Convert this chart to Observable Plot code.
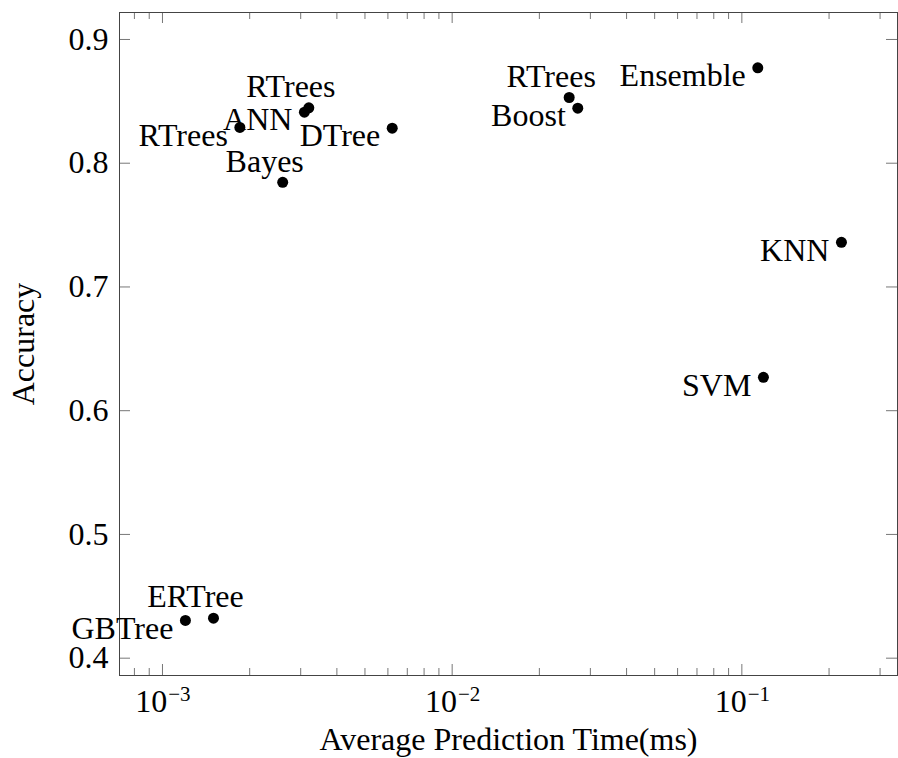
<!DOCTYPE html>
<html>
<head>
<meta charset="utf-8">
<script src="https://cdn.jsdelivr.net/npm/d3@7"></script>
<script src="https://cdn.jsdelivr.net/npm/@observablehq/plot@0.6"></script>
<style>
  html, body { margin: 0; padding: 0; background: white; }
  svg { display: block; }
</style>
</head>
<body>
<div id="chart"></div>
<script>
// ---- data ----
const models   = ["GBTree", "ERTree", "RTrees", "ANN", "RTrees", "Bayes", "DTree", "RTrees", "Boost", "Ensemble", "KNN", "SVM"];
const times    = [0.00120, 0.00150, 0.00185, 0.00309, 0.00320, 0.00260, 0.00621, 0.02535, 0.02714, 0.1135, 0.2207, 0.1187];
const accuracy = [0.4305, 0.4323, 0.8289, 0.8412, 0.8448, 0.7846, 0.8283, 0.8531, 0.8445, 0.8771, 0.7361, 0.6270];

const xMajorTicks = [0.001, 0.01, 0.1];
const xMajorExponents = ["−3", "−2", "−1"];
const xMinorTicks = [0.0008, 0.0009,
  0.002, 0.003, 0.004, 0.005, 0.006, 0.007, 0.008, 0.009,
  0.02, 0.03, 0.04, 0.05, 0.06, 0.07, 0.08, 0.09,
  0.2, 0.3];
const yTicks = [0.4, 0.5, 0.6, 0.7, 0.8, 0.9];
const yTickLabels = ["0.4", "0.5", "0.6", "0.7", "0.8", "0.9"];
const xLabel = "Average Prediction Time(ms)";
const yLabel = "Accuracy";

// ---- build ----
const points = models.map((m, i) => ({model: m, time: times[i], acc: accuracy[i], i}));
const aboveIdx = new Set([1, 4, 5, 7]); // labels placed above the dot
const xMajor = xMajorTicks.map((v, i) => ({v, e: xMajorExponents[i]}));
const yMajor = yTicks.map((v, i) => ({v, t: yTickLabels[i]}));

const W = 898, H = 758;
const mL = 119, mR = 1, mT = 12, mB = 83;
const pw = W - mL - mR, ph = H - mT - mB;
const font = "'Liberation Serif', 'Times New Roman', serif";
const tickColor = "#777";
const fs = 32;

const chart = Plot.plot({
  width: W, height: H,
  marginLeft: mL, marginRight: mR, marginTop: mT, marginBottom: mB,
  x: {type: "log", domain: [0.0007106, 0.3446], axis: null},
  y: {domain: [0.386, 0.9218], axis: null},
  style: {fontFamily: font, background: "white", color: "black"},
  marks: [
    // ticks (inward, all four sides)
    Plot.ruleX(xMajorTicks, {x: d => d, insetTop: ph - 11, stroke: tickColor}),
    Plot.ruleX(xMajorTicks, {x: d => d, insetBottom: ph - 11, stroke: tickColor}),
    Plot.ruleX(xMinorTicks, {x: d => d, insetTop: ph - 7, stroke: tickColor}),
    Plot.ruleX(xMinorTicks, {x: d => d, insetBottom: ph - 7, stroke: tickColor}),
    Plot.ruleY(yTicks, {y: d => d, insetRight: pw - 11, stroke: tickColor}),
    Plot.ruleY(yTicks, {y: d => d, insetLeft: pw - 11, stroke: tickColor}),
    Plot.frame({stroke: "#444", strokeWidth: 1}),
    // y tick labels
    Plot.text(yMajor, {y: "v", text: "t", frameAnchor: "left", textAnchor: "end", lineAnchor: "middle", dx: -11, fontSize: fs, fill: "black"}),
    // x tick labels: 10^e
    Plot.text(xMajor, {x: "v", text: () => "10", frameAnchor: "bottom", textAnchor: "end", lineAnchor: "middle", dx: 4.8, dy: 26.5, fontSize: fs, fill: "black"}),
    Plot.text(xMajor, {x: "v", text: "e", frameAnchor: "bottom", textAnchor: "start", lineAnchor: "middle", dx: 5.8, dy: 18.3, fontSize: 21, fill: "black"}),
    // axis labels
    Plot.text([xLabel], {text: d => d, frameAnchor: "bottom", textAnchor: "middle", lineAnchor: "middle", dy: 63.8, fontSize: fs, fill: "black"}),
    Plot.text([yLabel], {text: d => d, frameAnchor: "left", textAnchor: "middle", lineAnchor: "middle", dx: -95.7, rotate: -90, fontSize: fs, fill: "black"}),
    // points
    Plot.dot(points, {x: "time", y: "acc", r: 5.5, fill: "black", stroke: "none"}),
    // labels
    Plot.text(points.filter(d => !aboveIdx.has(d.i)), {x: "time", y: "acc", text: "model", textAnchor: "end", lineAnchor: "middle", dx: -12, dy: 8, fontSize: fs, fill: "black"}),
    Plot.text(points.filter(d => aboveIdx.has(d.i)), {x: "time", y: "acc", text: "model", textAnchor: "middle", lineAnchor: "middle", dx: -18, dy: -21, fontSize: fs, fill: "black"})
  ]
});
document.getElementById("chart").appendChild(chart);
</script>
</body>
</html>
